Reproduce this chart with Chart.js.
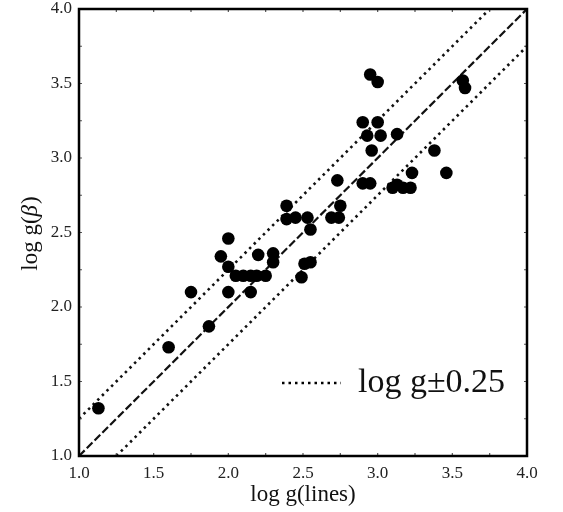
<!DOCTYPE html>
<html>
<head>
<meta charset="utf-8">
<script src="https://cdn.jsdelivr.net/npm/chart.js@4/dist/chart.umd.min.js"></script>
<style>
  html, body { margin: 0; padding: 0; background: #fff; }
  #wrap { width: 563px; height: 512px; }
</style>
</head>
<body>
<div id="wrap"><canvas id="c" width="563" height="512"></canvas></div>
<script>
// Surface gravity from spectral lines vs. from the beta index
const loggLines = [
  1.13, 1.60, 1.75, 1.87, 1.95, 2.00, 2.00, 2.00, 2.05, 2.10,
  2.15, 2.19, 2.25, 2.15, 2.20, 2.30, 2.30, 2.39, 2.39, 2.45,
  2.53, 2.55, 2.49, 2.51, 2.55, 2.69, 2.73, 2.75, 2.74, 2.95,
  3.00, 2.90, 3.00, 2.93, 3.02, 3.13, 2.96, 3.38, 3.46, 3.23,
  3.57, 3.585, 2.90, 2.95, 3.10, 3.13, 3.17, 3.22
];
const loggBeta = [
  1.32, 1.73, 2.10, 1.87, 2.34, 2.46, 2.27, 2.10, 2.21, 2.21,
  2.21, 2.21, 2.21, 2.10, 2.35, 2.36, 2.30, 2.68, 2.59, 2.60,
  2.60, 2.52, 2.20, 2.29, 2.30, 2.60, 2.85, 2.68, 2.60, 3.56,
  3.51, 3.24, 3.24, 3.15, 3.15, 3.16, 3.05, 3.05, 2.90, 2.90,
  3.52, 3.47, 2.83, 2.83, 2.80, 2.82, 2.80, 2.80
];

const axisMin = 1.0;
const axisMax = 4.0;
const tickLabels = ['1.0', '1.5', '2.0', '2.5', '3.0', '3.5', '4.0'];
const band = 0.25;
const legendText = 'log g\u00B10.25';

const serif = "'Liberation Serif', 'DejaVu Serif', serif";

const points = loggLines.map((x, i) => ({ x: x, y: loggBeta[i] }));
const oneToOne = [{ x: axisMin, y: axisMin }, { x: axisMax, y: axisMax }];
const upper = [{ x: axisMin, y: axisMin + band }, { x: axisMax - band, y: axisMax }];
const lower = [{ x: axisMin + band, y: axisMin }, { x: axisMax, y: axisMax - band }];

function tickLabel(v) {
  const idx = Math.round((v - axisMin) / 0.5);
  if (Math.abs(axisMin + idx * 0.5 - v) < 1e-6 && tickLabels[idx] !== undefined) return tickLabels[idx];
  return '';
}

// frame, inward tick marks, y title and the in-plot legend
const decor = {
  id: 'decor',
  afterDraw(chart) {
    const ctx = chart.ctx;
    const a = chart.chartArea;
    const xs = chart.scales.x, ys = chart.scales.y;
    ctx.save();
    // inward ticks every 0.25
    ctx.strokeStyle = '#555';
    ctx.lineWidth = 1.2;
    for (let v = axisMin + 0.25; v < axisMax - 1e-6; v += 0.25) {
      const px = xs.getPixelForValue(v);
      const py = ys.getPixelForValue(v);
      ctx.beginPath();
      ctx.moveTo(px, a.bottom); ctx.lineTo(px, a.bottom - 3);
      ctx.moveTo(px, a.top); ctx.lineTo(px, a.top + 3);
      ctx.moveTo(a.left, py); ctx.lineTo(a.left + 3, py);
      ctx.moveTo(a.right, py); ctx.lineTo(a.right - 3, py);
      ctx.stroke();
    }
    // frame
    ctx.strokeStyle = '#000';
    ctx.lineWidth = 2.5;
    ctx.strokeRect(a.left, a.top, a.right - a.left, a.bottom - a.top);

    // legend: dotted sample + label
    const ly = 383;
    ctx.lineWidth = 2.5;
    ctx.setLineDash([2.5, 4]);
    ctx.beginPath();
    ctx.moveTo(282, ly); ctx.lineTo(341, ly);
    ctx.stroke();
    ctx.setLineDash([]);
    ctx.fillStyle = '#111';
    ctx.font = '34px ' + serif;
    ctx.textBaseline = 'middle';
    ctx.textAlign = 'left';
    ctx.fillText(legendText, 358, ly);

    // y axis title with italic beta
    ctx.translate(31, 234);
    ctx.rotate(-Math.PI / 2);
    const fs = '23px ';
    ctx.font = fs + serif;
    const p1 = 'log g(', p2 = '\u03B2', p3 = ')';
    const w1 = ctx.measureText(p1).width;
    ctx.font = 'italic ' + fs + serif;
    const w2 = ctx.measureText(p2).width;
    ctx.font = fs + serif;
    const w3 = ctx.measureText(p3).width;
    let x0 = -(w1 + w2 + w3) / 2;
    ctx.fillText(p1, x0, 0);
    ctx.font = 'italic ' + fs + serif;
    ctx.fillText(p2, x0 + w1, 0);
    ctx.font = fs + serif;
    ctx.fillText(p3, x0 + w1 + w2 + 1, 0);
    ctx.restore();
  }
};

new Chart(document.getElementById('c'), {
  type: 'scatter',
  data: {
    datasets: [
      {
        label: 'stars',
        data: points,
        pointRadius: 6.3,
        pointHoverRadius: 6.3,
        backgroundColor: '#000',
        borderWidth: 0,
        order: 0
      },
      {
        label: '1:1',
        data: oneToOne,
        showLine: true,
        pointRadius: 0,
        borderColor: '#111',
        borderWidth: 2.2,
        borderDash: [8, 3],
        order: 1
      },
      {
        label: '+0.25',
        data: upper,
        showLine: true,
        pointRadius: 0,
        borderColor: '#111',
        borderWidth: 2.6,
        borderDash: [2.5, 4],
        order: 2
      },
      {
        label: '-0.25',
        data: lower,
        showLine: true,
        pointRadius: 0,
        borderColor: '#111',
        borderWidth: 2.6,
        borderDash: [2.5, 4],
        order: 3
      }
    ]
  },
  options: {
    responsive: false,
    animation: false,
    devicePixelRatio: 1,
    layout: { padding: { top: 9, right: 36, left: 0, bottom: 0 } },
    plugins: { legend: { display: false }, tooltip: { enabled: false } },
    scales: {
      x: {
        type: 'linear',
        min: axisMin, max: axisMax,
        grid: { display: true, drawOnChartArea: false, drawTicks: false },
        border: { display: false },
        ticks: {
          stepSize: 0.25,
          autoSkip: false,
          maxRotation: 0,
          padding: 7,
          color: '#222',
          font: { family: serif, size: 17, lineHeight: 1.2 },
          callback: (v) => tickLabel(v)
        },
        title: {
          display: true,
          text: 'log g(lines)',
          color: '#111',
          font: { family: serif, size: 23, lineHeight: 1.0 },
          padding: { top: 0, bottom: 6 }
        },
        afterFit(s) { s.height = 56; s.paddingLeft = 0; s.paddingRight = 0; }
      },
      y: {
        type: 'linear',
        min: axisMin, max: axisMax,
        grid: { display: true, drawOnChartArea: false, drawTicks: false },
        border: { display: false },
        ticks: {
          stepSize: 0.25,
          autoSkip: false,
          padding: 7,
          color: '#222',
          font: { family: serif, size: 17, lineHeight: 1.0 },
          callback: (v) => tickLabel(v)
        },
        afterFit(s) { s.width = 79; s.paddingTop = 0; s.paddingBottom = 0; }
      }
    }
  },
  plugins: [decor]
});
</script>
</body>
</html>
